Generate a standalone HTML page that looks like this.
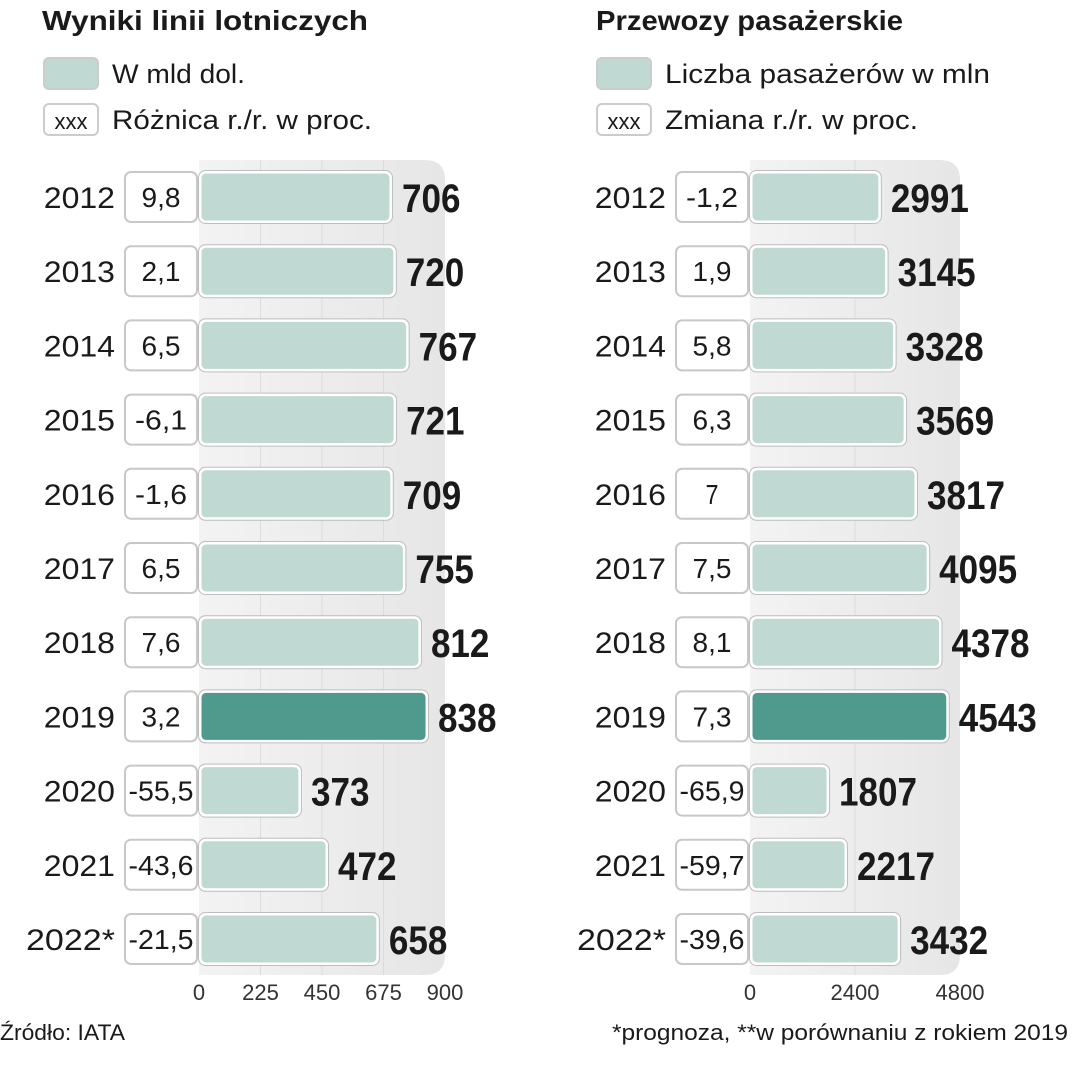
<!DOCTYPE html>
<html><head><meta charset="utf-8"><style>
body{margin:0;background:#fff;width:1074px;height:1080px;overflow:hidden}
svg text{font-family:"Liberation Sans",sans-serif}
</style></head><body>
<svg id="s" width="1074" height="1080" xmlns="http://www.w3.org/2000/svg">
<defs>
<linearGradient id="pg" x1="0" x2="1" y1="0" y2="0"><stop offset="0" stop-color="#f3f3f3"/><stop offset="1" stop-color="#e6e6e6"/></linearGradient>
</defs>
<text x="42" y="30" font-size="28" font-weight="bold" fill="#1a1a1a" textLength="326" lengthAdjust="spacingAndGlyphs">Wyniki linii lotniczych</text>
<rect x="44" y="58" width="54" height="31" rx="5" fill="#c0d9d2" stroke="#ccc" stroke-width="2"/>
<text x="112" y="83" font-size="27" fill="#1a1a1a" textLength="133" lengthAdjust="spacingAndGlyphs">W mld dol.</text>
<rect x="44" y="104" width="54" height="31" rx="5" fill="#fff" stroke="#ccc" stroke-width="2"/>
<text x="71" y="129" font-size="22" fill="#1a1a1a" text-anchor="middle">xxx</text>
<text x="112" y="129" font-size="27" fill="#1a1a1a" textLength="260" lengthAdjust="spacingAndGlyphs">Różnica r./r. w proc.</text>

<text x="596" y="30" font-size="28" font-weight="bold" fill="#1a1a1a" textLength="307" lengthAdjust="spacingAndGlyphs">Przewozy pasażerskie</text>
<rect x="597" y="58" width="54" height="31" rx="5" fill="#c0d9d2" stroke="#ccc" stroke-width="2"/>
<text x="665" y="83" font-size="27" fill="#1a1a1a" textLength="325" lengthAdjust="spacingAndGlyphs">Liczba pasażerów w mln</text>
<rect x="597" y="104" width="54" height="31" rx="5" fill="#fff" stroke="#ccc" stroke-width="2"/>
<text x="624" y="129" font-size="22" fill="#1a1a1a" text-anchor="middle">xxx</text>
<text x="665" y="129" font-size="27" fill="#1a1a1a" textLength="253" lengthAdjust="spacingAndGlyphs">Zmiana r./r. w proc.</text>

<text x="0" y="1040" font-size="22" fill="#1a1a1a" textLength="125" lengthAdjust="spacingAndGlyphs">Źródło: IATA</text>
<text x="612" y="1040" font-size="22" fill="#1a1a1a" textLength="456" lengthAdjust="spacingAndGlyphs">*prognoza, **w porównaniu z rokiem 2019</text>
<g id="charts"></g>
</svg>
<script>
const years=["2012","2013","2014","2015","2016","2017","2018","2019","2020","2021","2022*"];
const leftValues=[706,720,767,721,709,755,812,838,373,472,658];
const leftChanges=["9,8","2,1","6,5","-6,1","-1,6","6,5","7,6","3,2","-55,5","-43,6","-21,5"];
const leftTicks=[0,225,450,675,900];
const rightValues=[2991,3145,3328,3569,3817,4095,4378,4543,1807,2217,3432];
const rightChanges=["-1,2","1,9","5,8","6,3","7","7,5","8,1","7,3","-65,9","-59,7","-39,6"];
const rightTicks=[0,2400,4800];
const highlight="2019";
const NS="http://www.w3.org/2000/svg";
const g=document.getElementById('charts');
function mk(t,a,txt){const e=document.createElementNS(NS,t);for(const k in a)e.setAttribute(k,a[k]);if(txt!=null)e.textContent=txt;g.appendChild(e);return e;}
function chart(prefix,x0,pxW,maxV,vals,chg,ticks){
  const sx=v=>x0+v/maxV*pxW;
  const rowY=i=>197+i*74.2;
  let p=mk('path',{d:`M${x0} 160 H${x0+pxW-20} Q${x0+pxW} 160 ${x0+pxW} 180 V955 Q${x0+pxW} 975 ${x0+pxW-20} 975 H${x0} Z`,fill:'url(#pg)'});
  
  
  ticks.forEach((t,k)=>{
    if(k>0&&k<ticks.length-1){let l=mk('line',{x1:sx(t),x2:sx(t),y1:160,y2:975,stroke:'#dcdcdc','stroke-width':1});
    
    }
    let tx=mk('text',{x:sx(t),y:1000,'font-size':22,fill:'#333','text-anchor':'middle'},String(t));
    
    
  });
  years.forEach((y,i)=>{
    const cy=rowY(i);
    let yt=mk('text',{x:x0-84,y:cy+11,'font-size':30,fill:'#1a1a1a','text-anchor':'end',textLength:y.length*17.8,lengthAdjust:'spacingAndGlyphs'},y);
    
    
    let b=mk('rect',{x:x0-74,y:cy-25,width:72,height:50,rx:6,fill:'#fff',stroke:'#c8c8c8','stroke-width':2});
    
    
    let ct=mk('text',{x:x0-38,y:cy+10,'font-size':28,fill:'#1a1a1a','text-anchor':'middle',textLength:chg[i].length*13,lengthAdjust:'spacingAndGlyphs'},chg[i]);
    
    
    const w=sx(vals[i])-x0;
    let r=mk('rect',{x:x0+1,y:cy-25,width:w-2,height:50,rx:6,fill:y===highlight?'#4f9a8c':'#c0d9d2',stroke:'#fff','stroke-width':3});
    
    
    let ro=mk('rect',{x:x0-0.5,y:cy-26.5,width:w+1,height:53,rx:7,fill:'none',stroke:'#bdbdbd','stroke-width':1});
    
    
    const s=String(vals[i]);
    let vt=mk('text',{x:x0+w+10,y:cy+15,'font-size':40,'font-weight':'bold',fill:'#1a1a1a',textLength:s.length*19.5,lengthAdjust:'spacingAndGlyphs'},s);
    
    
  });
}
chart('left',199,246,900,leftValues,leftChanges,leftTicks);
chart('right',750,210,4800,rightValues,rightChanges,rightTicks);
</script>
</body></html>
